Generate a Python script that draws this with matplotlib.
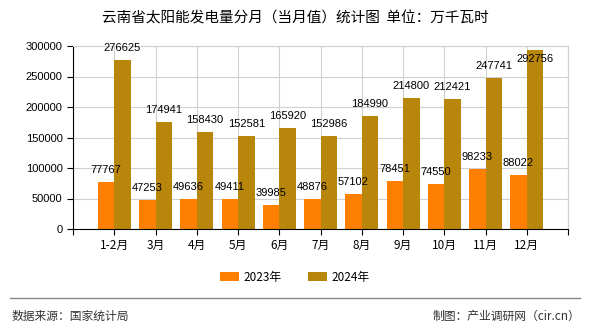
"""云南省太阳能发电量分月统计图"""
import matplotlib
matplotlib.use("Agg")
import matplotlib.pyplot as plt
import numpy as np

plt.rcParams['font.family'] = ['Noto Sans CJK SC', 'DejaVu Sans']

months = ["1-2月", "3月", "4月", "5月", "6月", "7月", "8月", "9月", "10月", "11月", "12月"]
v2023 = [77767, 47253, 49636, 49411, 39985, 48876, 57102, 78451, 74550, 98233, 88022]
v2024 = [276625, 174941, 158430, 152581, 165920, 152986, 184990, 214800, 212421, 247741, 292756]
series_names = ["2023年", "2024年"]
colors = ["#FF8000", "#B8860B"]


def main():
    fig = plt.figure(figsize=(5.9, 3.3), dpi=100)
    ax = fig.add_axes([73 / 590, 1 - 229 / 330, (568 - 73) / 590, (229 - 46) / 330])

    ymax = 300000
    x = np.arange(len(months))
    w = 0.4
    for vals, off, c, name in [(v2023, -w / 2, colors[0], series_names[0]),
                               (v2024, w / 2, colors[1], series_names[1])]:
        ax.bar(x + off, vals, width=w, color=c, label=name, zorder=2)
        for xi, v in zip(x, vals):
            ty = v + 19700
            if ty > ymax:
                ty = v - 14000
            ax.text(xi + off, ty, str(v), ha="center", va="center", fontsize=8,
                    family=["Liberation Sans"], zorder=3)

    ax.set_xlim(-1, len(months))
    ax.set_ylim(0, ymax)
    ax.set_yticks(np.arange(0, ymax + 1, 50000))
    ax.set_yticklabels([str(t) for t in range(0, ymax + 1, 50000)],
                       family=["Liberation Sans"], fontsize=8)
    ax.set_xticks(np.arange(-1, len(months) + 1))
    ax.set_xticklabels([""] + months + [""], fontsize=8.5)
    ax.tick_params(axis="both", length=4)
    ax.grid(True, color="#d0d0d0", linewidth=0.8, zorder=0)
    ax.set_axisbelow(True)
    for s in ["top", "right"]:
        ax.spines[s].set_color("#d0d0d0")
    ax.spines["left"].set_color("black")
    ax.spines["bottom"].set_color("black")

    fig.text(0.5, 1 - 18 / 330, "云南省太阳能发电量分月（当月值）统计图  单位：万千瓦时",
             ha="center", va="center", fontsize=10.5)
    fig.legend(loc="center", bbox_to_anchor=(0.5, 1 - 277 / 330), ncol=2, frameon=False,
               fontsize=8.5, handlelength=1.6, handleheight=0.8, columnspacing=2.2,
               handletextpad=0.4)
    fig.add_artist(plt.Line2D([10 / 590, 580 / 590], [1 - 298 / 330, 1 - 298 / 330],
                              color="#888888", linewidth=1))
    fig.text(12 / 590, 1 - 316 / 330, "数据来源：国家统计局", ha="left", va="center",
             fontsize=8.5, color="#333333")
    fig.text(580 / 590, 1 - 316 / 330, "制图：产业调研网（cir.cn）", ha="right", va="center",
             fontsize=8.5, color="#333333")

    fig.savefig("out.png", dpi=100)


if __name__ == "__main__":
    main()
